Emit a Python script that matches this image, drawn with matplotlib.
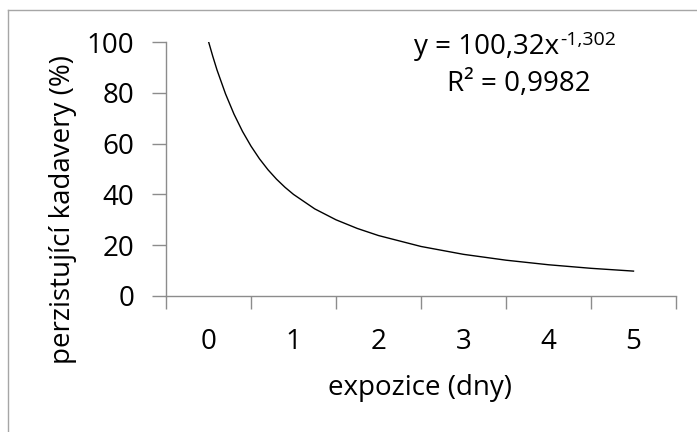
import matplotlib.pyplot as plt
from matplotlib.lines import Line2D

# values (x in category units, 0 = first category)
expo_x = [0.0, 0.05, 0.1, 0.2, 0.3, 0.4, 0.5, 0.6, 0.7, 0.8, 0.9, 1.0,
          1.25, 1.5, 1.75, 2.0, 2.5, 3.0, 3.5, 4.0, 4.5, 5.0]
persist_y = [100.2, 94.4, 89.0, 79.6, 71.6, 64.8, 59.0, 54.0, 49.7, 46.0, 42.8, 40.0,
             34.3, 30.0, 26.6, 23.8, 19.5, 16.4, 14.1, 12.3, 10.9, 9.8]
day_labels = ["0", "1", "2", "3", "4", "5"]
y_ticks = [0, 20, 40, 60, 80, 100]


def main():
    plt.rcParams["font.family"] = ["Open Sans", "DejaVu Sans"]

    fs = 20
    grey = "#8c8c8c"
    fig = plt.figure(figsize=(6.97, 4.32), dpi=100)
    ax = fig.add_axes([166 / 697, 1 - 296 / 432, 510 / 697, 254 / 432])

    ax.plot(expo_x, persist_y, color="black", linewidth=1.0)

    ax.set_xlim(-0.5, 5.5)
    ax.set_ylim(0, 100)

    # category boundaries carry the tick marks, labels sit in the middle
    ax.set_xticks([i - 0.5 for i in range(7)])
    ax.set_xticklabels([])
    ax.set_xticks(range(6), minor=True)
    ax.set_xticklabels(day_labels, minor=True)
    ax.tick_params(axis="x", which="major", length=9, width=1, color=grey, direction="out")
    ax.tick_params(axis="x", which="minor", length=0, labelsize=fs, pad=23)

    ax.set_yticks(y_ticks)
    ax.tick_params(axis="y", length=10, width=1, color=grey, direction="out",
                   labelsize=fs, pad=13)

    for side in ("top", "right"):
        ax.spines[side].set_visible(False)
    for side in ("left", "bottom"):
        ax.spines[side].set_color(grey)
        ax.spines[side].set_linewidth(1)

    ax.set_ylabel("perzistující kadavery (%)", fontsize=fs, va="center")
    ax.yaxis.set_label_coords(-0.202, 0.34)
    ax.set_xlabel("expozice (dny)", fontsize=fs, va="center")
    ax.xaxis.set_label_coords(0.498, -0.362)

    # trendline equation, exponent as a separate smaller text
    fig.text(559 / 697, 1 - 47 / 432, "y = 100,32x", fontsize=fs,
             ha="right", va="center")
    fig.text(560 / 697, 1 - 31 / 432, "-1,302", fontsize=14, ha="left", va="top")
    fig.text(519 / 697, 1 - 84 / 432, "R² = 0,9982", fontsize=fs,
             ha="center", va="center")

    # chart area border (only left and top edges visible)
    fig.add_artist(Line2D([8 / 697, 1], [1 - 10 / 432] * 2, color="#a6a6a6", linewidth=1))
    fig.add_artist(Line2D([8 / 697] * 2, [0, 1 - 10 / 432], color="#a6a6a6", linewidth=1))

    fig.savefig("out.png", dpi=100)


if __name__ == "__main__":
    main()
